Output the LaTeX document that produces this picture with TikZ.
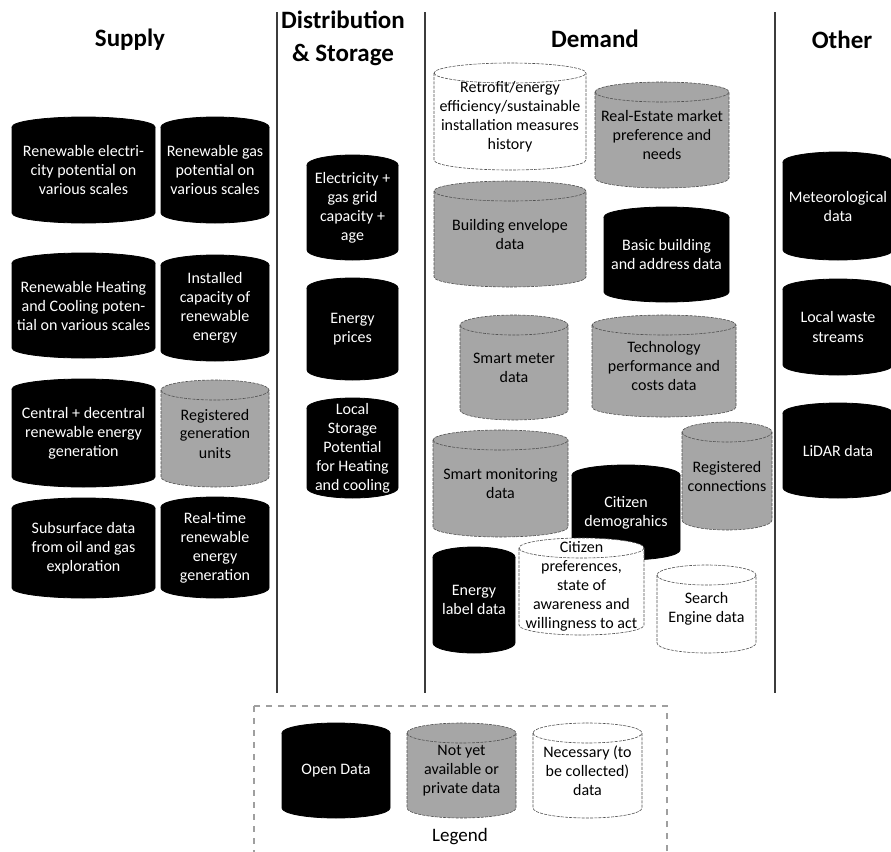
\documentclass[tikz,border=0pt]{standalone}
\usepackage{fontspec}
\setmainfont{Carlito}
\usetikzlibrary{positioning}

\definecolor{privgray}{RGB}{166,166,166}
\definecolor{rimgray}{RGB}{80,80,80}
\definecolor{linegray}{RGB}{60,60,60}

% cylinder: [kind]{name}{x1}{y1}{x2}{y2}{text}
\newcommand{\datacyl}[7][opendb]{%
  \path[#1] (#3,#4+10) -- (#3,#6-10)
    arc[start angle=180, end angle=0, x radius={(#5-#3)/2}, y radius=10]
    -- (#5,#4+10)
    arc[start angle=0, end angle=-180, x radius={(#5-#3)/2}, y radius=10]
    -- cycle;
  \draw[#1, fill=none] (#3,#4+10)
    arc[start angle=180, end angle=0, x radius={(#5-#3)/2}, y radius=10];
  \node[#1 label] (#2) at ({(#3+#5)/2},{(#4+#6)/2}) {#7};
}

\begin{document}
\begin{tikzpicture}[
  x=0.5pt, y=-0.5pt,
  every node/.style={font=\fontsize{8}{9.5}\selectfont, align=center, inner sep=0pt},
  head/.style={font=\fontsize{12.5}{16.5}\selectfont\bfseries},
  opendb/.style={fill=black, draw=black, line width=0.4pt},
  privdb/.style={fill=privgray, draw=rimgray, dash pattern=on 1.5pt off 0.6pt, line width=0.3pt},
  needdb/.style={fill=white, draw=rimgray, dash pattern=on 1.5pt off 0.6pt, line width=0.3pt},
  opendb label/.style={text=white},
  privdb label/.style={text=black},
  needdb label/.style={text=black},
  divider/.style={draw=linegray, line width=0.8pt},
  legendbox/.style={draw=gray!75, dashed, line width=0.6pt}
]
\useasboundingbox (0,0) rectangle (891,852);

% column titles
\node[head] (supply) at (130,40) {Supply};
\node[head] (dist) at (343,38) {Distribution\\\& Storage};
\node[head] (demand) at (595,39) {Demand};
\node[head] (other) at (842,40) {Other};

\draw[divider] (277,12) -- (277,693);
\draw[divider] (425,12) -- (425,693);
\draw[divider] (775,12) -- (775,693);

% supply
\datacyl{relec}{12}{117}{155}{223}{Renewable electri-\\city potential on\\various scales}
\datacyl{rgas}{161}{117}{269}{223}{Renewable gas\\potential on\\various scales}
\datacyl{rheat}{12}{253}{155}{358}{Renewable Heating\\and Cooling poten-\\tial on various scales}
\datacyl{instcap}{161}{255}{269}{361}{Installed\\capacity of\\renewable\\energy}
\datacyl{centgen}{12}{379}{155}{487}{Central + decentral\\renewable energy\\generation}
\datacyl[privdb]{reggen}{161}{380}{269}{487}{Registered\\generation\\units}
\datacyl{subsurf}{12}{498}{155}{598}{Subsurface data\\from oil and gas\\exploration}
\datacyl{realtime}{161}{497}{269}{598}{Real-time\\renewable\\energy\\generation}

% distribution & storage
\datacyl{grid}{307}{155}{398}{260}{Electricity +\\gas grid\\capacity +\\age}
\datacyl{prices}{307}{278}{398}{380}{Energy\\prices}
\datacyl{storage}{307}{398}{398}{498}{Local\\Storage\\Potential\\for Heating\\and cooling}

% demand
\datacyl[needdb]{retrofit}{434}{63}{586}{170}{Retrofit/energy\\efficiency/sustainable\\installation measures\\history}
\datacyl[privdb]{realestate}{595}{82}{729}{188}{Real-Estate market\\preference and\\needs}
\datacyl[privdb]{envelope}{434}{181}{586}{287}{Building envelope\\data}
\datacyl{basic}{604}{207}{729}{302}{Basic building\\and address data}
\datacyl[privdb]{smeter}{460}{315}{568}{420}{Smart meter\\data}
\datacyl[privdb]{techperf}{592}{315}{736}{417}{Technology\\performance and\\costs data}
\datacyl[privdb]{smonitor}{433}{430}{568}{537}{Smart monitoring\\data}
\datacyl[privdb]{regconn}{682}{422}{772}{530}{Registered\\connections}
\datacyl{citdemo}{572}{465}{680}{560}{Citizen\\demograhics}
\datacyl{elabel}{433}{547}{515}{653}{Energy\\label data}
\datacyl[needdb]{citpref}{519}{538}{644}{635}{Citizen\\preferences,\\state of\\awareness and\\willingness to act}
\datacyl[needdb]{search}{657}{565}{756}{653}{Search\\Engine data}

% other
\datacyl{meteo}{783}{152}{893}{260}{Meteorological\\data}
\datacyl{waste}{783}{279}{893}{375}{Local waste\\streams}
\datacyl{lidar}{783}{403}{893}{498}{LiDAR data}

% legend
\draw[legendbox] (254,706) rectangle (667,860);
\datacyl{lopen}{282}{723}{390}{818}{Open Data}
\datacyl[privdb]{lpriv}{407}{723}{516}{818}{Not yet\\available or\\private data}
\datacyl[needdb]{lneed}{533}{723}{642}{818}{Necessary (to\\be collected)\\data}
\node[font=\fontsize{9.5}{11}\selectfont] (legend) at (460,837) {Legend};

\end{tikzpicture}
\end{document}
